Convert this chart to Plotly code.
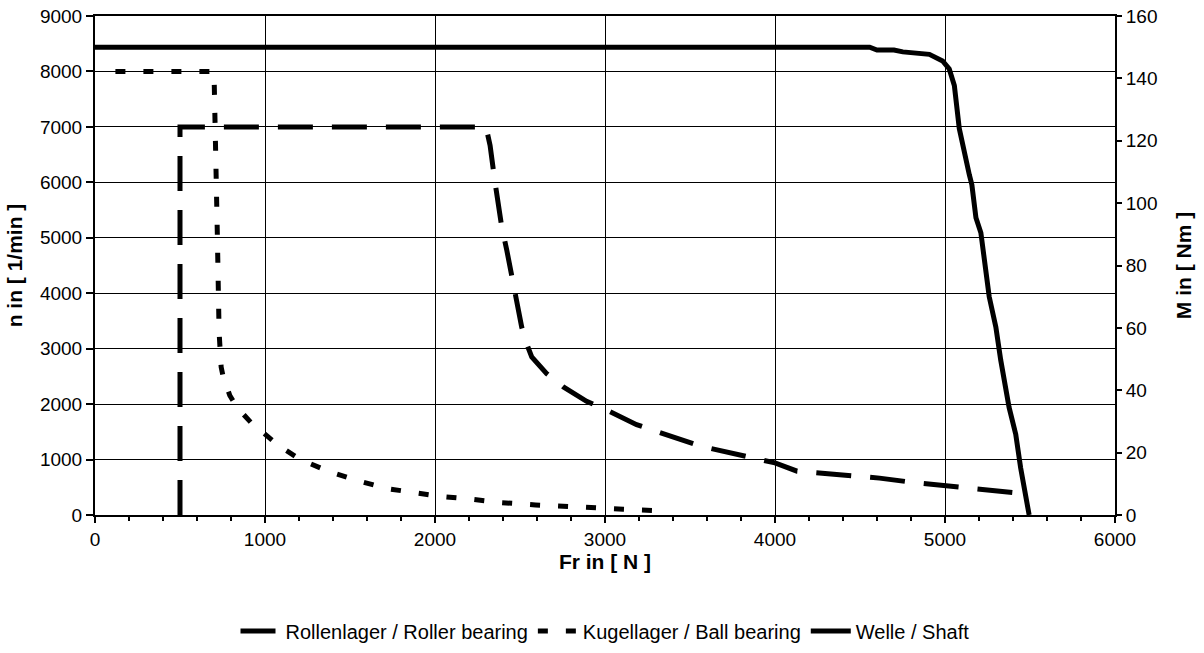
import plotly.graph_objects as go

# ---- data ----
roller_fr = [500, 500, 2300, 2324, 2353, 2392, 2422, 2451, 2480, 2510, 2539, 2569, 2657, 2755,
             2892, 3004, 3186, 3314, 3558, 3854, 4000, 4130, 4490, 4615, 4830, 4950, 5150, 5260, 5450]
roller_n = [0, 7000, 7000, 6667, 6000, 5210, 4780, 4290, 3860, 3390, 3090, 2850, 2550, 2310,
            2050, 1900, 1630, 1490, 1245, 1040, 940, 790, 690, 665, 580, 545, 485, 455, 390]

ball_fr = [120, 700, 720, 730, 742, 752, 793, 835, 917, 1000, 1083, 1207, 1372, 1558, 1723,
           1899, 2033, 2198, 2384, 2591, 2777, 2942, 3107, 3340]
ball_n = [8000, 8000, 5000, 3300, 2670, 2520, 2155, 1943, 1670, 1457, 1245, 1002, 789, 607,
          474, 395, 334, 291, 225, 182, 152, 115, 105, 75]

shaft_fr = [0, 4557, 4600, 4700, 4752, 4908, 4986, 5025, 5055, 5084, 5143, 5158, 5182, 5211,
            5260, 5299, 5328, 5377, 5416, 5445, 5495]
shaft_m = [150, 150, 149.1, 149.1, 148.5, 147.7, 145.6, 143.0, 137.7, 123.9, 109.1, 105.9,
           95.3, 90.5, 70.0, 60.3, 49.6, 34.5, 25.9, 15.1, 0]

names = ["Rollenlager / Roller bearing", "Kugellager / Ball bearing", "Welle / Shaft"]
x_title = "Fr in [ N ]"
y_title = "n in [ 1/min ]"
y2_title = "M in [ Nm ]"

FONT = "Liberation Sans, Arial, sans-serif"
TICK = 19
TITLE = 21

fig = go.Figure()
fig.add_trace(go.Scatter(x=roller_fr, y=roller_n, mode="lines", name=names[0],
                         line=dict(color="black", width=5, dash="35px,19px")))
fig.add_trace(go.Scatter(x=ball_fr, y=ball_n, mode="lines", name=names[1],
                         line=dict(color="black", width=5, dash="10px,18px")))
fig.add_trace(go.Scatter(x=shaft_fr, y=shaft_m, mode="lines", name=names[2], yaxis="y2",
                         line=dict(color="black", width=5)))

fig.update_layout(
    width=1204, height=653,
    margin=dict(l=95, r=89, t=16, b=138, autoexpand=False),
    paper_bgcolor="white", plot_bgcolor="white",
    font=dict(family=FONT, size=TICK, color="black"),
    showlegend=True,
    legend=dict(orientation="h", x=0.5, xanchor="center", y=-0.2325, yanchor="middle",
                font=dict(size=20), itemwidth=40, traceorder="normal"),
    xaxis=dict(range=[0, 6000], dtick=1000, tick0=0, showgrid=True, gridcolor="black",
               gridwidth=1, zeroline=False, showline=True, linecolor="black", linewidth=2,
               mirror=True, ticks="outside", ticklen=6, tickwidth=1.5, tickcolor="black",
               automargin=False, ticklabeloverflow="allow",
               minor=dict(dtick=200, ticks="outside", ticklen=4, tickwidth=1.5,
                          tickcolor="black", showgrid=False),
               title=dict(text="<b>" + x_title + "</b>", standoff=4, font=dict(size=TITLE)),
               tickfont=dict(size=TICK)),
    xaxis2=dict(range=[0, 6000], overlaying="x", anchor="y", side="bottom", dtick=1000,
                showgrid=False, zeroline=False, showticklabels=False, ticks="inside",
                ticklen=4, tickwidth=1.5, tickcolor="black", automargin=False,
                minor=dict(dtick=200, ticks="inside", ticklen=4, tickwidth=1.5,
                           tickcolor="black", showgrid=False)),
    yaxis=dict(range=[0, 9000], dtick=1000, showgrid=True, gridcolor="black", gridwidth=1,
               zeroline=False, showline=True, linecolor="black", linewidth=2,
               ticks="outside", ticklen=7, tickwidth=1.5, tickcolor="black",
               automargin=False, ticklabeloverflow="allow",
               title=dict(text="<b>" + y_title + "</b>", standoff=12, font=dict(size=TITLE)),
               tickfont=dict(size=TICK)),
    yaxis2=dict(range=[0, 160], dtick=20, overlaying="y", side="right", anchor="x",
                showgrid=False, zeroline=False, showline=True, linecolor="black",
                linewidth=2, ticks="outside", ticklen=5, tickwidth=1.5, tickcolor="black",
                automargin=False, ticklabeloverflow="allow",
                title=dict(text="<b>" + y2_title + "</b>", standoff=20, font=dict(size=TITLE)),
                tickfont=dict(size=TICK)),
    yaxis3=dict(range=[0, 160], dtick=20, overlaying="y", side="right", anchor="x",
                showgrid=False, zeroline=False, showline=False, showticklabels=False,
                ticks="inside", ticklen=5, tickwidth=1.5, tickcolor="black",
                automargin=False),
)

fig.write_html("out.html", config={"displayModeBar": False},
               post_script="document.body.style.margin='0';")
